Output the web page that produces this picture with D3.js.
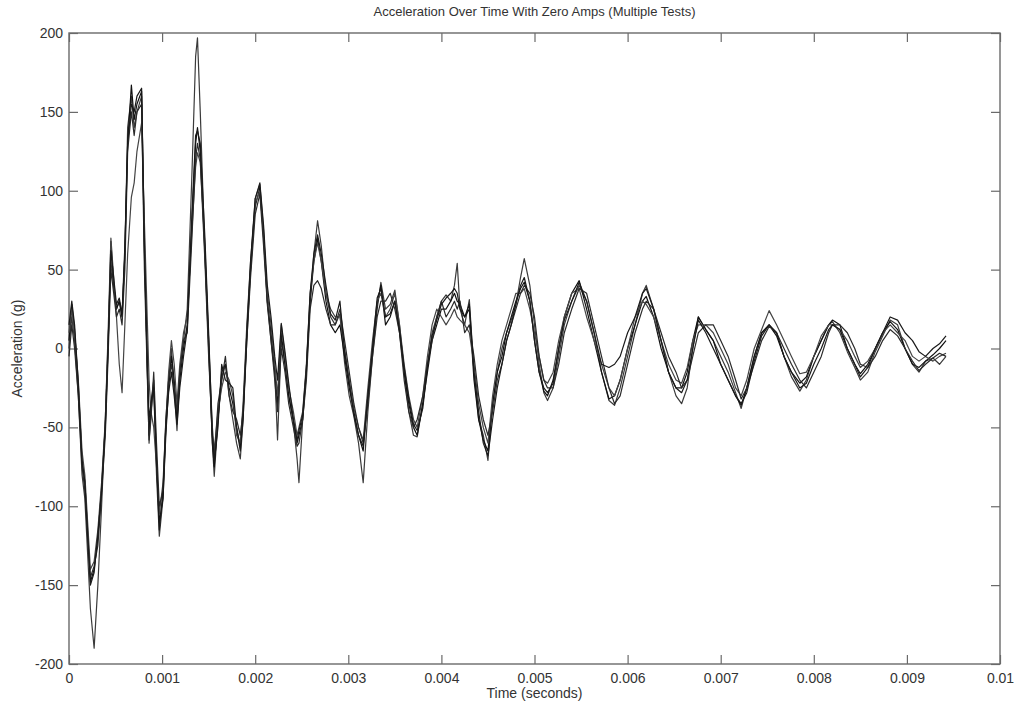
<!DOCTYPE html>
<html>
<head>
<meta charset="utf-8">
<script src="https://cdn.jsdelivr.net/npm/d3@7"></script>
<style>
  html, body { margin: 0; padding: 0; background: #fff; }
  svg { display: block; }
  text { font-family: "Liberation Sans", Arial, sans-serif; }
</style>
</head>
<body>
<svg id="chart" width="1016" height="707"></svg>
<script>
const titleText = "Acceleration Over Time With Zero Amps (Multiple Tests)";
const xLabelText = "Time (seconds)";
const yLabelText = "Acceleration (g)";

const xTicks = [0, 0.001, 0.002, 0.003, 0.004, 0.005, 0.006, 0.007, 0.008, 0.009, 0.01];
const xTickLabels = ["0", "0.001", "0.002", "0.003", "0.004", "0.005", "0.006", "0.007", "0.008", "0.009", "0.01"];
const yTicks = [-200, -150, -100, -50, 0, 50, 100, 150, 200];
const yTickLabels = ["-200", "-150", "-100", "-50", "0", "50", "100", "150", "200"];

const timeSec = [
  0,0.00003,0.00006,0.00010,0.00014,0.00017,0.00020,0.00023,0.00027,0.00031,
  0.00035,0.00039,0.00042,0.00045,0.00048,0.00051,0.00054,0.00057,0.00060,0.00063,
  0.00067,0.00070,0.00073,0.00078,0.00081,0.00084,0.00086,0.00088,0.00091,0.00094,
  0.00097,0.00101,0.00104,0.00107,0.00110,0.00113,0.00116,0.00119,0.00123,0.00127,
  0.00132,0.00136,0.00138,0.00141,0.00146,0.00150,0.00154,0.00156,0.00160,0.00164,
  0.00168,0.00172,0.00176,0.00180,0.00184,0.00187,0.00191,0.00195,0.00200,0.00205,
  0.00209,0.00213,0.00217,0.00221,0.00224,0.00228,0.00232,0.00236,0.00241,0.00245,
  0.00247,0.00251,0.00255,0.00259,0.00263,0.00267,0.00271,0.00276,0.00281,0.00286,
  0.00291,0.00296,0.00301,0.00306,0.00311,0.00316,0.00321,0.00326,0.00331,0.00335,
  0.00340,0.00345,0.00350,0.00355,0.00360,0.00365,0.00370,0.00374,0.00380,0.00385,
  0.00390,0.00395,0.00400,0.00405,0.00410,0.00414,0.00417,0.00420,0.00425,0.00430,
  0.00435,0.00440,0.00445,0.00450,0.00455,0.00460,0.00465,0.00470,0.00475,0.00480,
  0.00485,0.00489,0.00495,0.00500,0.00505,0.00510,0.00514,0.00520,0.00526,0.00532,
  0.00540,0.00548,0.00556,0.00564,0.00572,0.00580,0.00586,0.00592,0.00600,0.00608,
  0.00616,0.00620,0.00628,0.00636,0.00644,0.00652,0.00658,0.00664,0.00670,0.00676,
  0.00684,0.00692,0.00700,0.00708,0.00716,0.00722,0.00728,0.00736,0.00744,0.00752,
  0.00760,0.00768,0.00776,0.00785,0.00792,0.00800,0.00808,0.00816,0.00820,0.00828,
  0.00836,0.00844,0.00850,0.00858,0.00866,0.00874,0.00882,0.00890,0.00898,0.00906,
  0.00913,0.00920,0.00928,0.00935,0.00942
];

const test1 = [
  0,20,5,-30,-80,-95,-130,-165,-190,-150,
  -100,-45,5,55,40,25,30,20,60,140,
  160,140,150,160,70,-10,-60,-40,-25,-80,
  -119,-95,-50,-20,0,-25,-52,-15,5,25,
  110,185,197,150,60,5,-60,-81,-45,-20,
  -10,-30,-45,-60,-70,-45,5,50,95,104,
  75,30,5,-15,-58,5,-10,-30,-47,-70,
  -85,-45,-12,30,60,81,65,35,20,15,
  22,-9,-30,-43,-60,-85,-40,-5,25,42,
  25,28,37,15,-15,-40,-55,-56,-35,-10,
  10,20,30,34,30,40,54,25,15,31,
  -15,-45,-55,-71,-35,-15,0,10,18,28,
  45,57,40,15,-10,-28,-33,-25,-5,15,
  30,40,30,10,-15,-33,-36,-25,-5,15,
  35,40,25,5,-15,-30,-35,-25,0,20,
  12,5,-5,-15,-28,-38,-25,-5,10,15,
  10,-5,-18,-27,-20,-5,5,15,17,10,
  -2,-12,-20,-15,-2,8,18,15,0,-10,
  -15,-8,-6,-10,-5
];

const test2 = [
  5,28,12,-25,-70,-85,-115,-148,-140,-120,
  -88,-50,0,68,40,25,30,20,60,130,
  167,145,155,163,60,-10,-55,-35,-20,-70,
  -110,-95,-55,-25,-5,-20,-45,-20,0,15,
  80,130,140,125,60,0,-60,-75,-45,-15,
  -10,-25,-35,-50,-62,-40,10,50,90,102,
  70,30,10,-15,-35,10,-10,-30,-45,-60,
  -55,-45,-15,30,55,70,55,30,15,10,
  15,-5,-25,-40,-55,-65,-30,0,28,40,
  15,20,30,10,-15,-35,-50,-55,-35,-15,
  5,15,25,25,30,35,30,28,20,25,
  -20,-45,-58,-65,-35,-15,-5,10,20,30,
  38,42,30,5,-15,-27,-30,-20,0,20,
  35,43,25,5,-15,-32,-30,-20,0,15,
  30,33,20,0,-15,-25,-25,-15,5,20,
  12,5,-10,-20,-30,-36,-25,-5,10,15,
  8,-5,-15,-22,-18,-5,5,15,18,15,
  0,-10,-16,-10,0,10,17,12,0,-10,
  -12,-8,-4,0,5
];

const test3 = [
  10,25,10,-20,-65,-80,-110,-140,-135,-115,
  -85,-45,10,70,45,20,-10,-28,15,60,
  96,105,125,143,80,20,-20,-40,-50,-75,
  -105,-85,-47,-15,5,-10,-35,-10,10,20,
  75,115,124,118,65,5,-50,-65,-40,-25,
  -15,-20,-30,-55,-60,-35,15,55,92,100,
  72,35,15,-10,-30,15,-5,-25,-40,-55,
  -50,-40,-10,35,55,67,55,35,25,20,
  20,0,-20,-38,-50,-58,-25,5,30,35,
  20,25,35,15,-10,-30,-45,-50,-30,-5,
  15,25,20,15,20,25,20,18,15,10,
  -10,-35,-50,-60,-30,-10,5,15,25,35,
  35,38,25,10,-5,-20,-22,-15,5,20,
  35,38,20,5,-10,-25,-30,-20,0,20,
  30,28,20,5,-10,-20,-22,-12,5,15,
  15,10,0,-10,-25,-30,-20,0,12,24,
  15,5,-5,-16,-15,-5,8,15,15,12,
  5,-5,-12,-8,0,10,15,10,5,-5,
  -8,-5,-8,-5,-3
];

const test4 = [
  -5,15,0,-30,-75,-90,-120,-145,-138,-125,
  -92,-55,-5,50,35,20,25,15,50,125,
  150,135,150,155,50,-15,-58,-45,-15,-60,
  -100,-90,-45,-20,-10,-25,-40,-15,5,10,
  70,120,130,120,55,-5,-55,-70,-35,-20,
  -5,-30,-40,-45,-55,-40,5,45,85,98,
  65,28,5,-20,-40,0,-15,-35,-50,-62,
  -60,-45,-20,25,40,43,38,25,15,15,
  25,5,-15,-35,-50,-60,-35,-5,20,30,
  30,35,25,10,-20,-40,-50,-45,-30,-10,
  5,20,30,20,25,30,25,30,10,15,
  -5,-30,-45,-55,-40,-20,-10,5,15,25,
  35,40,35,20,-5,-20,-25,-25,-10,10,
  25,38,35,15,-5,-25,-35,-30,-10,10,
  25,30,25,10,-5,-15,-25,-20,-5,10,
  15,15,5,-5,-20,-32,-25,-10,5,14,
  10,0,-10,-20,-25,-15,-5,10,15,15,
  10,0,-10,-12,-5,5,12,8,0,-8,
  -14,-10,-6,-3,-5
];

const test5 = [
  15,30,15,-22,-72,-84,-118,-150,-142,-118,
  -90,-48,2,62,45,28,32,22,65,130,
  155,150,160,165,65,-5,-45,-35,-25,-72,
  -115,-90,-50,-28,-15,-30,-48,-25,-5,12,
  85,135,138,130,70,10,-55,-72,-50,-10,
  -20,-22,-25,-50,-65,-45,10,55,95,105,
  78,40,20,-5,-20,16,-2,-22,-45,-58,
  -52,-42,-12,35,60,72,60,40,22,18,
  30,-2,-22,-42,-55,-62,-30,0,32,38,
  20,22,30,12,-12,-32,-48,-52,-38,-12,
  8,18,28,32,35,38,35,25,20,28,
  -15,-40,-60,-68,-45,-25,-10,5,15,28,
  40,45,30,5,-15,-25,-28,-22,0,18,
  30,42,30,10,-10,-12,-10,-5,10,20,
  35,38,25,5,-15,-25,-28,-20,0,18,
  10,0,-10,-20,-30,-35,-28,-8,8,15,
  10,-5,-15,-25,-22,-10,0,12,15,12,
  0,-10,-18,-12,0,10,20,18,10,5,
  -2,-5,0,3,8
];

const seriesList = [test1, test2, test3, test4, test5];

const svg = d3.select("#chart");
const W = 1016, H = 707;
const margin = { left: 69, top: 33, right: 16, bottom: 43 };
const x = d3.scaleLinear().domain([0, 0.01]).range([margin.left, W - margin.right]);
const y = d3.scaleLinear().domain([-200, 200]).range([H - margin.bottom, margin.top]);

svg.append("rect").attr("x", 0).attr("y", 0).attr("width", W).attr("height", H).attr("fill", "#fff");

const axisColor = "#6a6a6a";
const textColor = "#333";
const tickLen = 9;

function styleAxis(g) {
  g.select(".domain").remove();
  g.selectAll(".tick line").attr("stroke", axisColor).attr("stroke-width", 1.2);
  g.selectAll(".tick text").attr("fill", textColor).attr("font-size", 14)
    .attr("font-family", "Liberation Sans, Arial, sans-serif");
}

// bottom axis
svg.append("g").attr("transform", `translate(0,${y(-200)})`)
  .call(d3.axisBottom(x).tickValues(xTicks).tickFormat((d, i) => xTickLabels[i])
    .tickSizeInner(-tickLen).tickSizeOuter(0).tickPadding(9))
  .call(styleAxis);
// top axis (ticks only)
svg.append("g").attr("transform", `translate(0,${y(200)})`)
  .call(d3.axisTop(x).tickValues(xTicks).tickFormat("")
    .tickSizeInner(-tickLen).tickSizeOuter(0))
  .call(styleAxis);
// left axis
svg.append("g").attr("transform", `translate(${x(0)},0)`)
  .call(d3.axisLeft(y).tickValues(yTicks).tickFormat((d, i) => yTickLabels[i])
    .tickSizeInner(-tickLen).tickSizeOuter(0).tickPadding(6))
  .call(styleAxis);
// right axis (ticks only)
svg.append("g").attr("transform", `translate(${x(0.01)},0)`)
  .call(d3.axisRight(y).tickValues(yTicks).tickFormat("")
    .tickSizeInner(-tickLen).tickSizeOuter(0))
  .call(styleAxis);

// box
svg.append("rect")
  .attr("x", x(0)).attr("y", y(200))
  .attr("width", x(0.01) - x(0)).attr("height", y(-200) - y(200))
  .attr("fill", "none").attr("stroke", axisColor).attr("stroke-width", 1.4);

// lines
const line = d3.line().x(d => x(d[0])).y(d => y(d[1]));
const lineColors = ["#3a3a3a", "#111", "#444", "#2a2a2a", "#1a1a1a"];
seriesList.forEach((vals, i) => {
  const pts = timeSec.map((t, j) => [t, vals[j]]).filter(p => p[1] !== undefined);
  svg.append("path").datum(pts)
    .attr("d", line)
    .attr("fill", "none")
    .attr("stroke", lineColors[i])
    .attr("stroke-width", 1.2)
    .attr("stroke-linejoin", "round");
});

// title and labels
svg.append("text").attr("x", (x(0) + x(0.01)) / 2).attr("y", 16)
  .attr("text-anchor", "middle").attr("font-size", 13).attr("fill", textColor)
  .text(titleText);
svg.append("text").attr("x", (x(0) + x(0.01)) / 2).attr("y", 698)
  .attr("text-anchor", "middle").attr("font-size", 14).attr("fill", textColor)
  .text(xLabelText);
svg.append("text").attr("transform", `translate(22,${(y(200) + y(-200)) / 2}) rotate(-90)`)
  .attr("text-anchor", "middle").attr("font-size", 14).attr("fill", textColor)
  .text(yLabelText);
</script>
</body>
</html>
